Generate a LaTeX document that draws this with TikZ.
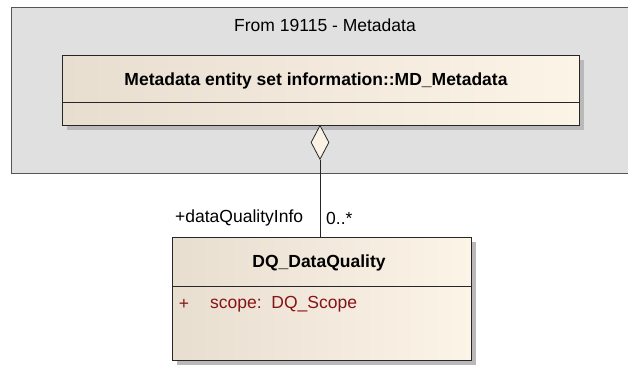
\documentclass[tikz,border=0pt]{standalone}
\usepackage{fontspec}
\setmainfont{Liberation Sans}
\usetikzlibrary{shapes.geometric}
\definecolor{pkgfill}{RGB}{224,224,224}
\definecolor{pkgline}{RGB}{85,85,85}
\definecolor{clsL}{RGB}{231,222,208}
\definecolor{clsR}{RGB}{253,244,232}
\definecolor{attrc}{RGB}{135,20,20}
\definecolor{shadowc}{RGB}{185,185,185}
\definecolor{diafill}{RGB}{250,242,228}
\begin{document}
\begin{tikzpicture}[x=1pt,y=-1pt,
  txt/.style={font=\fontsize{17.5}{21}\selectfont, inner sep=0pt},
  btxt/.style={font=\fontsize{17.5}{21}\selectfont\bfseries, inner sep=0pt},
  clsbox/.style={draw=black!85, line width=0.9pt, inner sep=0pt, anchor=north west},
  shadowbox/.style={fill=shadowc, draw=none}
]
\useasboundingbox (0,0) rectangle (628,365);
% package
\node[draw=pkgline, fill=pkgfill, line width=1.3pt, inner sep=0pt, anchor=north west,
      minimum width=640pt, minimum height=166pt] (pkg) at (11,7) {};
\node[txt] (pkgtitle) at (325,25) {From 19115 - Metadata};
% MD_Metadata class
\fill[shadowbox] (67,60) rectangle (584,130);
\shade[left color=clsL, right color=clsR] (62,55) rectangle (579,125);
\node[clsbox, minimum width=517pt, minimum height=70pt] (md) at (62,55) {};
\draw[black!85, line width=0.9pt] (md.west |- 0,102) -- (md.east |- 0,102);
\node[btxt] (mdtitle) at (316,81) {Metadata entity set information::MD\_Metadata};
% DQ_DataQuality class
\fill[shadowbox] (177,242) rectangle (476,365);
\shade[left color=clsL, right color=clsR] (172,237) rectangle (471,360);
\node[clsbox, minimum width=299pt, minimum height=123pt] (dq) at (172,237) {};
\draw[black!85, line width=0.9pt] (dq.west |- 0,286) -- (dq.east |- 0,286);
\node[btxt] (dqtitle) at (319,263) {DQ\_DataQuality};
\node[txt, text=attrc] (plus) at (184,304) {+};
\node[txt, text=attrc, anchor=west] (attr) at (210,304) {scope:\ \ DQ\_Scope};
% aggregation
\node[diamond, draw=black!85, fill=diafill, line width=0.8pt, inner sep=0pt,
      minimum width=18pt, minimum height=34pt, anchor=north] (dia) at (320,125) {};
\draw[black!85, line width=0.8pt] (dia.south) -- (dia.south |- dq.north);
\node[txt, anchor=west] (role) at (175,218) {+dataQualityInfo};
\node[txt, anchor=west] (mult) at (326,218) {0..*};
\end{tikzpicture}
\end{document}
